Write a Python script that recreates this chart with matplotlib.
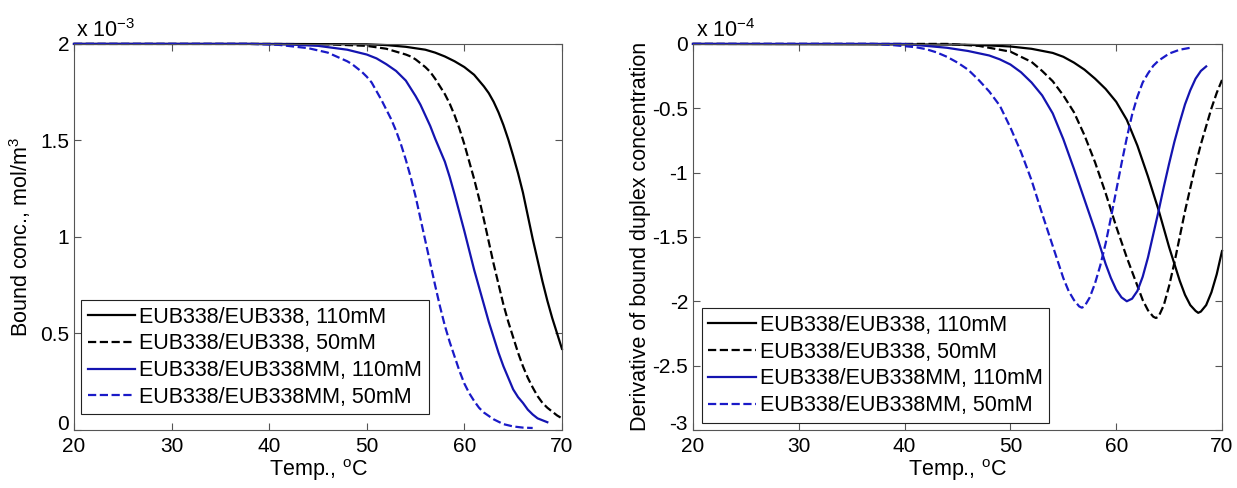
import numpy as np
import matplotlib
matplotlib.use("Agg")
import matplotlib.pyplot as plt
import matplotlib.transforms as mtransforms

plt.rcParams['font.family'] = ['Liberation Sans', 'DejaVu Sans']
plt.rcParams['mathtext.fontset'] = 'custom'
plt.rcParams['mathtext.rm'] = 'Liberation Sans'
plt.rcParams['mathtext.it'] = 'Liberation Sans:italic'

labels = ['EUB338/EUB338, 110mM', 'EUB338/EUB338, 50mM',
          'EUB338/EUB338MM, 110mM', 'EUB338/EUB338MM, 50mM']

# bound concentration, units of 1e-3 mol/m^3
t_pm110 = [20, 40, 50, 52, 54, 56, 57, 58, 59, 60, 60.5, 61, 61.5, 62, 62.5, 63, 63.5,
           64, 64.5, 65, 65.5, 66, 66.5, 67, 67.5, 68, 68.5, 69, 69.5, 70]
c_pm110 = [2.0, 2.0, 1.998, 1.994, 1.985, 1.97, 1.955, 1.935, 1.91, 1.88, 1.86, 1.84,
           1.81, 1.78, 1.745, 1.70, 1.645, 1.58, 1.505, 1.42, 1.33, 1.23, 1.11, 0.99,
           0.88, 0.77, 0.67, 0.58, 0.50, 0.42]

t_pm50 = [20, 40, 46, 50, 52, 54, 54.5, 55, 55.5, 56, 56.5, 57, 57.5, 58, 58.5, 59, 59.5,
          60, 60.5, 61, 61.5, 62, 62.5, 63, 63.5, 64, 64.5, 65, 65.5, 66, 66.5, 67, 67.5,
          68, 68.5, 69, 69.5, 70]
c_pm50 = [2.0, 2.0, 1.998, 1.99, 1.975, 1.945, 1.935, 1.92, 1.90, 1.88, 1.855, 1.82,
          1.78, 1.74, 1.69, 1.63, 1.56, 1.48, 1.39, 1.30, 1.20, 1.09, 0.975, 0.86, 0.755,
          0.65, 0.56, 0.48, 0.40, 0.33, 0.27, 0.22, 0.175, 0.14, 0.115, 0.095, 0.075, 0.06]

t_mm110 = [20, 38, 42, 45, 48, 50, 51, 52, 53, 54, 55, 55.5, 56, 56.5, 57, 57.5, 58, 58.5,
           59, 59.5, 60, 60.5, 61, 61.5, 62, 62.5, 63, 63.5, 64, 64.5, 65, 65.5, 66, 66.5,
           67, 67.5, 68, 68.5]
c_mm110 = [2.0, 2.0, 1.997, 1.99, 1.97, 1.945, 1.925, 1.895, 1.86, 1.81, 1.73, 1.685,
           1.63, 1.575, 1.51, 1.45, 1.39, 1.31, 1.22, 1.125, 1.03, 0.93, 0.83, 0.74, 0.65,
           0.56, 0.48, 0.40, 0.33, 0.27, 0.21, 0.17, 0.14, 0.105, 0.08, 0.06, 0.05, 0.04]

t_mm50 = [20, 38, 41, 44, 46, 48, 48.5, 49, 49.5, 50, 50.5, 51, 51.5, 52, 52.5, 53, 53.5,
          54, 54.5, 55, 55.5, 56, 56.5, 57, 57.5, 58, 58.5, 59, 59.5, 60, 60.5, 61, 61.5,
          62, 63, 64, 65, 66, 67]
c_mm50 = [2.0, 2.0, 1.995, 1.978, 1.955, 1.91, 1.895, 1.875, 1.855, 1.83, 1.80, 1.755,
          1.71, 1.66, 1.61, 1.55, 1.48, 1.40, 1.31, 1.21, 1.095, 0.98, 0.865, 0.75, 0.64,
          0.54, 0.455, 0.38, 0.305, 0.24, 0.19, 0.15, 0.115, 0.09, 0.055, 0.03, 0.018,
          0.012, 0.01]

# derivative of bound duplex concentration, units of 1e-4
dt_pm110 = [20, 45, 48, 50, 52, 54, 55, 56, 57, 58, 59, 60, 61, 62, 63, 64, 65, 66, 66.5,
            67, 67.5, 67.75, 68, 68.5, 69, 69.5, 70]
d_pm110 = [0, -0.005, -0.012, -0.02, -0.038, -0.07, -0.10, -0.145, -0.20, -0.27, -0.35,
           -0.45, -0.59, -0.79, -1.03, -1.29, -1.58, -1.84, -1.95, -2.03, -2.075, -2.09,
           -2.08, -2.03, -1.93, -1.79, -1.61]

dt_pm50 = [20, 44, 47, 50, 52, 53, 54, 55, 56, 57, 58, 59, 60, 61, 62, 62.5, 63, 63.5,
           63.75, 64, 64.5, 65, 65.5, 66, 66.5, 67, 67.5, 68, 68.5, 69, 69.5, 70]
d_pm50 = [0, 0, -0.015, -0.06, -0.14, -0.21, -0.29, -0.40, -0.53, -0.71, -0.92, -1.16,
          -1.42, -1.66, -1.88, -1.99, -2.07, -2.12, -2.13, -2.12, -2.03, -1.88, -1.70,
          -1.50, -1.30, -1.12, -0.94, -0.78, -0.64, -0.50, -0.38, -0.28]

dt_mm110 = [20, 40, 42, 44, 46, 48, 49, 50, 51, 52, 53, 54, 55, 56, 57, 58, 59, 59.5, 60,
            60.5, 61, 61.5, 62, 62.5, 63, 63.5, 64, 64.5, 65, 65.5, 66, 66.5, 67, 67.5,
            68, 68.5]
d_mm110 = [0, 0, -0.015, -0.03, -0.055, -0.09, -0.12, -0.16, -0.22, -0.30, -0.40, -0.54,
           -0.74, -0.97, -1.21, -1.45, -1.71, -1.82, -1.91, -1.97, -2.00, -1.98, -1.92,
           -1.81, -1.66, -1.48, -1.30, -1.11, -0.93, -0.76, -0.61, -0.47, -0.36, -0.27,
           -0.21, -0.175]

dt_mm50 = [20, 37, 39, 41, 42, 43, 44, 45, 46, 47, 48, 49, 50, 51, 52, 53, 54, 55, 55.5,
           56, 56.5, 56.75, 57, 57.5, 58, 58.5, 59, 59.5, 60, 60.5, 61, 61.5, 62, 62.5,
           63, 63.5, 64, 65, 66, 67]
d_mm50 = [0, 0, -0.01, -0.025, -0.04, -0.065, -0.10, -0.145, -0.20, -0.28, -0.37, -0.48,
          -0.65, -0.84, -1.06, -1.32, -1.57, -1.82, -1.92, -1.99, -2.04, -2.05, -2.04,
          -1.97, -1.86, -1.72, -1.55, -1.35, -1.14, -0.93, -0.73, -0.55, -0.41, -0.30,
          -0.23, -0.17, -0.13, -0.075, -0.045, -0.03]

blue_s = '#1414b0'
blue_d = '#1a1ac8'
styles = [('black', '-'), ('black', '--'), (blue_s, '-'), (blue_d, '--')]

fig = plt.figure(figsize=(12.37, 4.88), dpi=100, facecolor='white')
ax1 = fig.add_axes([0.0598, 0.119, 0.3945, 0.791])
ax2 = fig.add_axes([0.5602, 0.119, 0.4277, 0.791])

left_series = [(t_pm110, c_pm110), (t_pm50, c_pm50), (t_mm110, c_mm110), (t_mm50, c_mm50)]
right_series = [(dt_pm110, d_pm110), (dt_pm50, d_pm50), (dt_mm110, d_mm110), (dt_mm50, d_mm50)]

for (x, y), (col, ls), lab in zip(left_series, styles, labels):
    ax1.plot(x, y, color=col, linestyle=ls, linewidth=1.6, label=lab, clip_on=False)
for (x, y), (col, ls), lab in zip(right_series, styles, labels):
    ax2.plot(x, y, color=col, linestyle=ls, linewidth=1.6, label=lab, clip_on=False)

FS = 15.5

ax1.set_xlim(20, 70)
ax1.set_ylim(0, 2)
ax1.set_yticks([0, 0.5, 1, 1.5, 2])
ax1.set_yticklabels(['0', '0.5', '1', '1.5', '2'])
ax1.set_ylabel('Bound conc., mol/m$^{\\mathregular{3}}$', fontsize=FS, labelpad=5)
ax1.text(0.005, 1.004, 'x 10$^{\\mathregular{-3}}$', transform=ax1.transAxes,
         fontsize=FS, ha='left', va='bottom')

ax2.set_xlim(20, 70)
ax2.set_ylim(-3, 0)
ax2.set_yticks([-3, -2.5, -2, -1.5, -1, -0.5, 0])
ax2.set_yticklabels(['-3', '-2.5', '-2', '-1.5', '-1', '-0.5', '0'])
ax2.set_ylabel('Derivative of bound duplex concentration', fontsize=FS, labelpad=1)
ax2.text(0.005, 1.004, 'x 10$^{\\mathregular{-4}}$', transform=ax2.transAxes,
         fontsize=FS, ha='left', va='bottom')

for ax, anchor in [(ax1, (0.0146, 0.040)), (ax2, (0.0166, 0.019))]:
    ax.set_xticks([20, 30, 40, 50, 60, 70])
    ax.set_xticklabels(['20', '30', '40', '50', '60', '70'])
    ax.set_xlabel('Temp., $^{\\mathregular{o}}$C', fontsize=FS, labelpad=1)
    ax.tick_params(direction='in', length=5, width=0.8, top=True, right=True,
                   labelsize=15, colors='#555555', labelcolor='black', pad=3.5)
    ax.tick_params(axis='x', pad=5)
    for sp in ax.spines.values():
        sp.set_color('#555555')
        sp.set_linewidth(0.8)
    leg = ax.legend(loc='lower left', bbox_to_anchor=anchor, fontsize=FS,
                    frameon=True, fancybox=False, framealpha=1, edgecolor='#222222',
                    handlelength=2.2, handletextpad=0.2, labelspacing=0.27,
                    borderpad=0.3, borderaxespad=0)
    leg.get_frame().set_linewidth(0.8)

    # lift the lowest y tick label a little so it clears the x tick labels
    fig.canvas.draw()
    lowest = ax.get_yticklabels()[0]
    lowest.set_transform(lowest.get_transform() +
                         mtransforms.ScaledTranslation(0, 5 / 72, fig.dpi_scale_trans))

fig.savefig('out.png', dpi=100, facecolor='white')
